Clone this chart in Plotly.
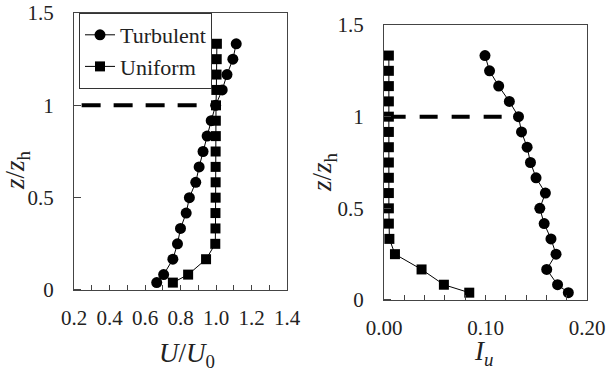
import plotly.graph_objects as go

# Heights z/zh (shared by both panels)
z = [0.04, 1/12, 2/12, 3/12, 4/12, 5/12, 6/12, 7/12, 8/12, 9/12, 10/12, 11/12, 1.0,
     13/12, 14/12, 15/12, 16/12]

# Left panel: U/U0
u_turb = [0.666, 0.705, 0.757, 0.783, 0.800, 0.832, 0.850, 0.886, 0.905, 0.927,
          0.950, 0.973, 0.998, 1.035, 1.062, 1.095, 1.114]
u_unif = [0.757, 0.843, 0.944, 0.996, 0.997, 0.997, 0.998, 0.998, 0.998, 0.998,
          0.999, 0.999, 1.000, 1.002, 1.003, 1.004, 1.005]

# Right panel: Iu
i_turb = [0.1816, 0.1710, 0.1603, 0.1695, 0.1645, 0.1578, 0.1535, 0.1590, 0.1498,
          0.1443, 0.1410, 0.1355, 0.1325, 0.1235, 0.1130, 0.1040, 0.0995]
i_unif = [0.084, 0.059, 0.037, 0.0108, 0.0053, 0.0048, 0.0048, 0.0048, 0.0048,
          0.0048, 0.0048, 0.0048, 0.0048, 0.0048, 0.0048, 0.0048, 0.0048]

# Canopy height dashed lines
dash_left_x = [0.243, 0.892]
dash_right_x = [0.0036, 0.116]
dash_y = [1.0, 1.0]

x_left_ticks = [0.2, 0.4, 0.6, 0.8, 1.0, 1.2, 1.4]
x_right_ticks = [0.0, 0.1, 0.2]
y_ticks = [0, 0.5, 1, 1.5]

FONT = "Liberation Serif"
BLACK = "black"
TXT = "#222"
AX = "#444"

fig = go.Figure()

# dashed lines
fig.add_trace(go.Scatter(x=dash_left_x, y=dash_y, mode="lines", showlegend=False,
                         line=dict(color=BLACK, width=4, dash="19px,13px"),
                         xaxis="x", yaxis="y"))
fig.add_trace(go.Scatter(x=dash_right_x, y=dash_y, mode="lines", showlegend=False,
                         line=dict(color=BLACK, width=4, dash="18px,14px"),
                         xaxis="x2", yaxis="y2"))

# Left panel
fig.add_trace(go.Scatter(x=u_turb, y=z, mode="lines+markers", name="Turbulent",
                         line=dict(color=BLACK, width=1),
                         marker=dict(symbol="circle", size=11, color=BLACK),
                         xaxis="x", yaxis="y"))
fig.add_trace(go.Scatter(x=u_unif, y=z, mode="lines+markers", name="Uniform",
                         line=dict(color=BLACK, width=1),
                         marker=dict(symbol="square", size=10, color=BLACK),
                         xaxis="x", yaxis="y"))

# Right panel
fig.add_trace(go.Scatter(x=i_turb, y=z, mode="lines+markers", showlegend=False,
                         line=dict(color=BLACK, width=1),
                         marker=dict(symbol="circle", size=11, color=BLACK),
                         xaxis="x2", yaxis="y2"))
fig.add_trace(go.Scatter(x=i_unif, y=z, mode="lines+markers", showlegend=False,
                         line=dict(color=BLACK, width=1),
                         marker=dict(symbol="square", size=10, color=BLACK),
                         xaxis="x2", yaxis="y2"))

axis_common = dict(showgrid=False, zeroline=False, showline=True, mirror=True,
                   linecolor=AX, linewidth=1, automargin=False,
                   tickfont=dict(family=FONT, size=21, color=TXT))

# y axes: transparent outside major ticks push labels away; visible inside ticks via minor
y_common = dict(range=[0, 1.5], tickvals=y_ticks, ticks="outside", ticklen=15,
                tickcolor="rgba(0,0,0,0)",
                minor=dict(tick0=0.001, dtick=0.5, ticks="inside", ticklen=7,
                           tickcolor=AX),
                **axis_common)

fig.update_layout(
    width=608, height=372,
    margin=dict(l=0, r=0, t=0, b=0, pad=0),
    paper_bgcolor="white", plot_bgcolor="white",
    font=dict(family=FONT, color=TXT),
    xaxis=dict(domain=[74/608, 287/608], range=[0.2, 1.4], tickvals=x_left_ticks,
               tickformat=".1f", ticks="inside", ticklen=5, tickcolor=AX,
               anchor="y", ticklabelstandoff=9,
               minor=dict(dtick=0.1, ticks="inside", ticklen=5, tickcolor=AX),
               **axis_common),
    yaxis=dict(domain=[(372-290)/372, (372-13)/372], anchor="x", **y_common),
    xaxis2=dict(domain=[384/608, 587/608], range=[0, 0.2], tickvals=x_right_ticks,
                tickformat=".2f", ticks="inside", ticklen=5, tickcolor=AX,
                anchor="y2", ticklabelstandoff=9,
                minor=dict(dtick=0.02, ticks="inside", ticklen=5, tickcolor=AX),
                **axis_common),
    yaxis2=dict(domain=[(372-300)/372, (372-25)/372], anchor="x2", **y_common),
    legend=dict(x=79/608, y=(372-13)/372, xanchor="left", yanchor="top",
                bgcolor="white", bordercolor="#333", borderwidth=1,
                font=dict(family=FONT, size=22, color=TXT),
                tracegroupgap=0),
    annotations=[
        dict(text="<i>U</i>/<i>U</i><sub>0</sub>", x=187/608, y=(372-355)/372,
             xref="paper", yref="paper", showarrow=False,
             xanchor="center", yanchor="middle",
             font=dict(family=FONT, size=27, color=TXT)),
        dict(text="<i>I<sub>u</sub></i>", x=483/608, y=(372-353)/372,
             xref="paper", yref="paper", showarrow=False,
             xanchor="center", yanchor="middle",
             font=dict(family=FONT, size=27, color=TXT)),
        dict(text="<i>z</i>/<i>z</i><sub>h</sub>", x=17/608, y=(372-170)/372,
             xref="paper", yref="paper", showarrow=False, textangle=-90,
             xanchor="center", yanchor="middle",
             font=dict(family=FONT, size=27, color=TXT)),
        dict(text="<i>z</i>/<i>z</i><sub>h</sub>", x=324/608, y=(372-172)/372,
             xref="paper", yref="paper", showarrow=False, textangle=-90,
             xanchor="center", yanchor="middle",
             font=dict(family=FONT, size=27, color=TXT)),
    ],
)

fig.write_html("out.html")
